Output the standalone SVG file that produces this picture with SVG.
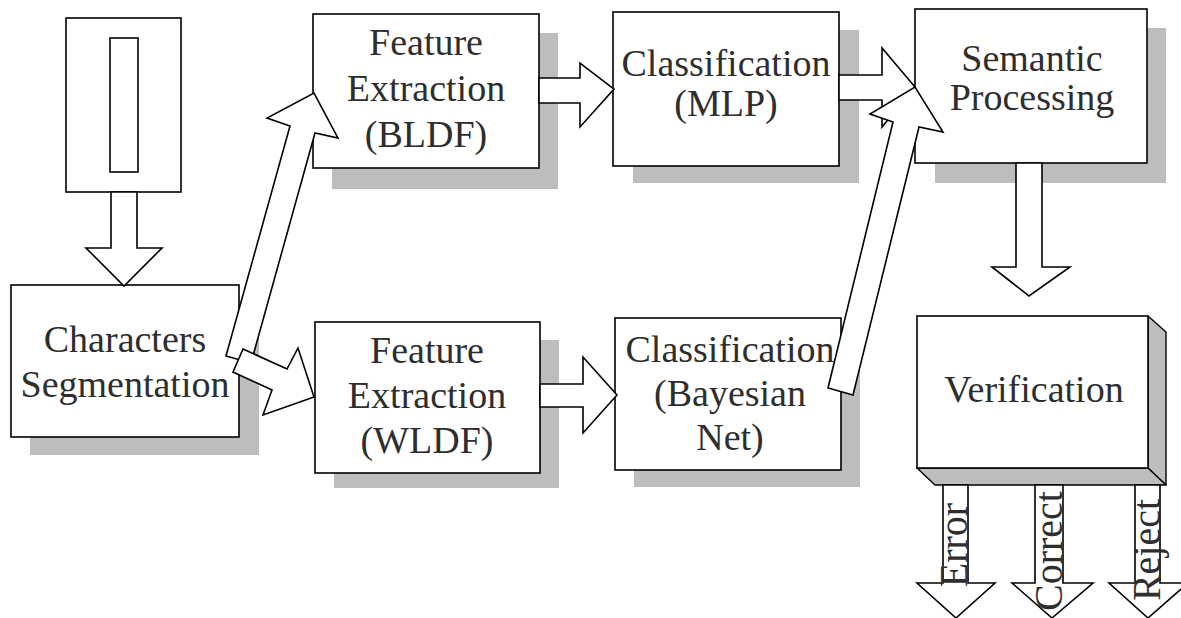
<svg xmlns="http://www.w3.org/2000/svg" width="1181" height="618" viewBox="0 0 1181 618">
<style>
.bg{fill:#ffffff}
.box{fill:#ffffff;stroke:#000;stroke-width:1.6}
.shd{fill:#bdbdbd}
.face{fill:#bdbdbd;stroke:#000;stroke-width:1.4;stroke-linejoin:round}
.arr{fill:#ffffff;stroke:#000;stroke-width:1.6;stroke-linejoin:miter}
text{font-family:'Times New Roman','Liberation Serif','Nimbus Roman','DejaVu Serif',serif}
.t{font-size:38px;fill:#2e2e2e;text-anchor:middle}
.tv{font-size:40px;fill:#2e2e2e;text-anchor:middle}
</style>
<rect class="bg" x="0" y="0" width="1181" height="618"/>

<g id="input-image">
  <rect class="box" x="66" y="18" width="115" height="174"/>
  <rect class="box" x="110" y="38" width="28" height="134"/>
</g>

<g id="characters-segmentation">
  <rect class="shd" x="30" y="303" width="229" height="152"/>
  <rect class="box" x="11" y="285" width="228" height="152"/>
  <text class="t" x="125" y="352">Characters</text>
  <text class="t" x="125" y="397">Segmentation</text>
</g>

<g id="feature-bldf">
  <rect class="shd" x="332" y="33" width="226" height="156"/>
  <rect class="box" x="313" y="14" width="226" height="154"/>
  <text class="t" x="426" y="55">Feature</text>
  <text class="t" x="426" y="101">Extraction</text>
  <text class="t" x="426" y="147">(BLDF)</text>
</g>

<g id="feature-wldf">
  <rect class="shd" x="334" y="340" width="225" height="148"/>
  <rect class="box" x="315" y="322" width="225" height="151"/>
  <text class="t" x="427" y="363">Feature</text>
  <text class="t" x="427" y="408">Extraction</text>
  <text class="t" x="427" y="453">(WLDF)</text>
</g>

<g id="classification-mlp">
  <rect class="shd" x="633" y="30" width="226" height="153"/>
  <rect class="box" x="613" y="12" width="226" height="154"/>
  <text class="t" x="726" y="76">Classification</text>
  <text class="t" x="726" y="116">(MLP)</text>
</g>

<g id="classification-bayesian">
  <rect class="shd" x="634" y="336" width="226" height="151"/>
  <rect class="box" x="615" y="318" width="226" height="152"/>
  <text class="t" x="730" y="362">Classification</text>
  <text class="t" x="730" y="406">(Bayesian</text>
  <text class="t" x="730" y="450">Net)</text>
</g>

<g id="semantic-processing">
  <rect class="shd" x="935" y="28" width="231" height="155"/>
  <rect class="box" x="915" y="9" width="232" height="154"/>
  <text class="t" x="1032" y="71">Semantic</text>
  <text class="t" x="1032" y="110">Processing</text>
</g>

<g id="verification">
  <polygon class="face" points="1148,316 1166,332 1166,485 1148,468"/>
  <polygon class="face" points="917,468 1148,468 1166,485 935,485"/>
  <rect class="box" x="917" y="316" width="231" height="152"/>
  <text class="t" x="1034" y="402">Verification</text>
</g>

<g id="connectors">
  <polygon class="arr" points="111,192 137,192 137,248 162,248 124,286 86,248 111,248"/>
  <polygon class="arr" points="539,78 580,78 580,63 614,89 580,127 580,103 539,103"/>
  <polygon class="arr" points="540,384 583,384 583,357 617,395 583,433 583,407 540,407"/>
  <polygon class="arr" points="839,75 882,75 882,48 915,87 882,127 882,100 839,100"/>
  <polygon class="arr" points="1016,163 1042,163 1042,267 1070,267 1029,296 992,267 1016,267"/>
  <polygon class="arr" points="226,356 290,126 267,118 314,93 338,138 315,133 251,363"/>
  <polygon class="arr" points="243,349 287,369 298,348 314,397 263,415 272,390 233,372"/>
  <polygon class="arr" points="828,388 893,122 870,114 915,87 943,132 919,127 853,395"/>
  <polygon class="arr" points="943,485 968,485 968,583 995,583 956,618 917,583 943,583"/>
  <polygon class="arr" points="1035,485 1063,485 1063,583 1093,583 1052,618 1012,583 1035,583"/>
  <polygon class="arr" points="1135,485 1160,485 1160,583 1188,583 1148,618 1109,583 1135,583"/>
</g>

<g id="outcome-labels">
  <text class="tv" transform="translate(967,545) rotate(-90)">Error</text>
  <text class="tv" transform="translate(1062,551) rotate(-90)">Correct</text>
  <text class="tv" transform="translate(1160,550) rotate(-90)">Reject</text>
</g>
</svg>
